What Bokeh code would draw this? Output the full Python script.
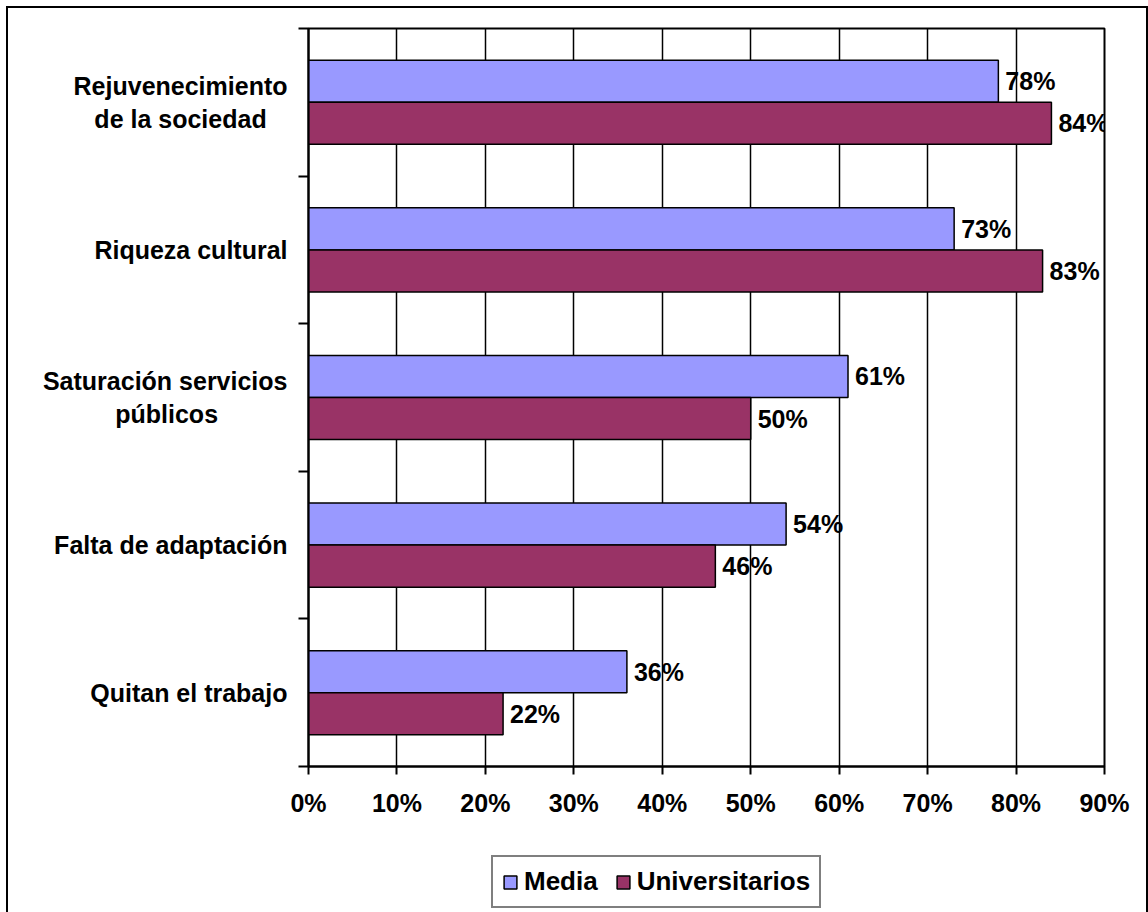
from bokeh.plotting import figure
from bokeh.layouts import column
from bokeh.models import (ColumnDataSource, Range1d, FixedTicker, LabelSet, Legend,
                          LegendItem, NumeralTickFormatter)
from bokeh.core.properties import value
from bokeh.embed import file_html
from bokeh.resources import INLINE

NB = "\u00a0"
categories = ["Rejuvenecimiento\nde la sociedad" + NB * 3, "Riqueza cultural",
              "Saturación servicios\npúblicos" + NB * 10, "Falta de adaptación", "Quitan el trabajo"]
media = [78, 73, 61, 54, 36]
universitarios = [84, 83, 50, 46, 22]
series_names = ["Media", "Universitarios"]
x_ticks = [0, 10, 20, 30, 40, 50, 60, 70, 80, 90]

FONT = "Liberation Sans"
COLORS = ["#9999FF", "#993366"]
n = len(categories)
centers = [n - 0.5 - i for i in range(n)]
bar_h = 0.285
off = bar_h / 2

src_m = ColumnDataSource(dict(y=[c + off for c in centers], x=[v / 100 for v in media],
                              lbl=[f"{v}%" for v in media]))
src_u = ColumnDataSource(dict(y=[c - off for c in centers], x=[v / 100 for v in universitarios],
                              lbl=[f"{v}%" for v in universitarios]))

p = figure(frame_width=796, frame_height=738,
           x_range=Range1d(0, 0.9), y_range=Range1d(0, n),
           output_backend="svg", toolbar_location=None,
           min_border_left=300, min_border_right=42, min_border_top=20, min_border_bottom=60)
p.outline_line_color = "black"
p.outline_line_width = 2

p.hbar(y="y", right="x", left=0, height=bar_h, source=src_m,
       fill_color=COLORS[0], line_color="black", line_width=1.5)
p.hbar(y="y", right="x", left=0, height=bar_h, source=src_u,
       fill_color=COLORS[1], line_color="black", line_width=1.5)

for src in (src_m, src_u):
    p.add_layout(LabelSet(x="x", y="y", text="lbl", source=src, x_offset=7,
                          text_baseline="middle", text_align="left",
                          text_font=value(FONT), text_font_style="bold",
                          text_font_size="25px", text_color="black"))

# x axis
p.xaxis.ticker = FixedTicker(ticks=[t / 100 for t in x_ticks])
p.xaxis.formatter = NumeralTickFormatter(format="0%")
p.xaxis.axis_line_width = 2
p.xaxis.major_tick_line_width = 2
p.xaxis.major_tick_out = 8
p.xaxis.major_tick_in = 0
p.xaxis.minor_tick_line_color = None
p.xaxis.major_label_standoff = 14
p.xaxis.major_label_text_font = FONT
p.xaxis.major_label_text_font_style = "bold"
p.xaxis.major_label_text_font_size = "25px"
p.xaxis.major_label_text_color = "black"

# y axis
p.yaxis.ticker = FixedTicker(ticks=centers, minor_ticks=list(range(n + 1)))
p.yaxis.major_label_overrides = {c: lab for c, lab in zip(centers, categories)}
p.yaxis.axis_line_width = 2
p.yaxis.major_tick_in = 0
p.yaxis.major_tick_out = 0
p.yaxis.minor_tick_in = 0
p.yaxis.minor_tick_out = 10
p.yaxis.minor_tick_line_width = 2
p.yaxis.minor_tick_line_color = "black"
p.yaxis.major_label_standoff = 11
p.yaxis.major_label_text_font = FONT
p.yaxis.major_label_text_font_style = "bold"
p.yaxis.major_label_text_font_size = "25px"
p.yaxis.major_label_text_color = "black"

p.xgrid.ticker = FixedTicker(ticks=[t / 100 for t in x_ticks])
p.xgrid.grid_line_color = "black"
p.xgrid.grid_line_width = 1.5
p.ygrid.grid_line_color = None

# legend strip below the chart (legend keys only; the key glyphs have no visible marks)
q = figure(frame_width=1138, frame_height=86, x_range=Range1d(0, 1), y_range=Range1d(0, 1),
           output_backend="svg", toolbar_location=None,
           x_axis_location=None, y_axis_location=None,
           min_border_left=0, min_border_right=0, min_border_top=0, min_border_bottom=0)
q.outline_line_color = None
q.xgrid.grid_line_color = None
q.ygrid.grid_line_color = None
key_src = ColumnDataSource(dict(y=[float("nan")], x=[float("nan")]))
qm = q.hbar(y="y", right="x", left=0, height=bar_h, source=key_src,
            fill_color=COLORS[0], line_color="black", line_width=1.5)
qu = q.hbar(y="y", right="x", left=0, height=bar_h, source=key_src,
            fill_color=COLORS[1], line_color="black", line_width=1.5)

legend = Legend(items=[LegendItem(label=series_names[0], renderers=[qm]),
                       LegendItem(label=series_names[1], renderers=[qu])],
                orientation="horizontal", location=(483, 4),
                glyph_width=16, glyph_height=16, label_standoff=6, spacing=17,
                padding=9, margin=0,
                label_text_font=FONT, label_text_font_style="bold",
                label_text_font_size="26px", label_text_color="black",
                border_line_color="black", border_line_width=2,
                background_fill_alpha=1)
q.add_layout(legend, "center")

layout = column(p, q, spacing=0,
                styles={"margin-left": "6px", "margin-top": "6px", "border": "2px solid black"})

open("out.html", "w").write(file_html(layout, INLINE))
